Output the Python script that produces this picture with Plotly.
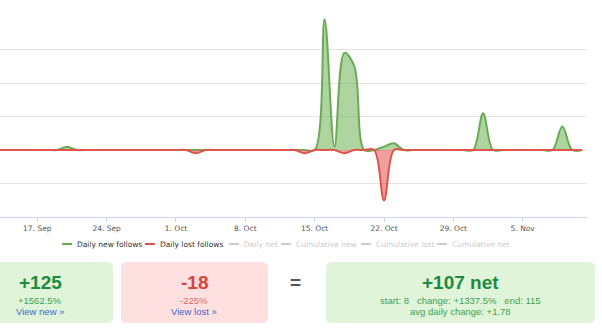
import pandas as pd
import plotly.graph_objects as go

# ---- data -------------------------------------------------------------
dates = pd.date_range("2018-09-13", "2018-11-11", freq="D")

daily_new = [
    0, 0, 0, 0, 0, 0, 0, 1, 0, 0,     # 13 Sep - 22 Sep
    0, 0, 0, 0, 0, 0, 0, 0, 0, 0,     # 23 Sep - 2 Oct
    0, 0, 0, 0, 0, 0, 0, 0, 0, 0,     # 3 Oct - 12 Oct
    0, 0, 0, 39, 1, 29, 25, 0, 0, 1,  # 13 Oct - 22 Oct
    2, 0, 0, 0, 0, 0, 0, 0, 0, 11,    # 23 Oct - 1 Nov
    0, 0, 0, 0, 0, 0, 0, 7, 0, 0,     # 2 Nov - 11 Nov
]
daily_lost = [
    0, 0, 0, 0, 0, 0, 0, 0, 0, 0,
    0, 0, 0, 0, 0, 0, 0, 0, 0, 0,
    -1, 0, 0, 0, 0, 0, 0, 0, 0, 0,
    0, -1, 0, 0, 0, -1, 0, 0, 0, -15,
    0, 0, 0, 0, 0, 0, 0, 0, 0, 0,
    0, 0, 0, 0, 0, 0, 0, 0, 0, 0,
]
tick_dates = ["2018-09-17", "2018-09-24", "2018-10-01", "2018-10-08",
              "2018-10-15", "2018-10-22", "2018-10-29", "2018-11-05"]

legend_items = ["Daily new follows", "Daily lost follows", "Daily net",
                "Cumulative new", "Cumulative lost", "Cumulative net"]
legend_colors = ["#6aaa55", "#e0534a", "#cccccc", "#cccccc", "#cccccc", "#cccccc"]
legend_text_colors = ["#333333", "#333333", "#cccccc", "#cccccc", "#cccccc", "#cccccc"]

total_new = "+125"
total_new_pct = "+1562.5%"
total_lost = "-18"
total_lost_pct = "-225%"
net_total = "+107 net"
net_start, net_change, net_end = "8", "+1337.5%", "115"
avg_daily = "+1.78"

# ---- layout geometry (pixels) ------------------------------------------
W, H = 602, 328
L, R, T, B = 0, 15, 16, 111
PW, PH = W - L - R, H - T - B


def px(x):
    return (x - L) / PW


def py(y):
    return (H - B - y) / PH


GREEN_LINE, GREEN_FILL = "#6aaa55", "rgba(120,185,95,0.6)"
RED_LINE, RED_FILL = "#e0534a", "rgba(232,95,90,0.6)"
SMOOTH = 1.0

fig = go.Figure()
fig.add_trace(go.Scatter(
    x=dates, y=daily_new, mode="lines", name="Daily new follows",
    line=dict(color=GREEN_LINE, width=2, shape="spline", smoothing=SMOOTH),
    fill="tozeroy", fillcolor=GREEN_FILL, hoverinfo="x+y"))
fig.add_trace(go.Scatter(
    x=dates, y=daily_lost, mode="lines", name="Daily lost follows",
    line=dict(color=RED_LINE, width=2, shape="spline", smoothing=SMOOTH),
    fill="tozeroy", fillcolor=RED_FILL, hoverinfo="x+y"))

shapes = []
annotations = []

# legend row
leg_y = 244
leg_x = [62, 145, 229, 281, 361, 437]
for x0, label, lc, tc in zip(leg_x, legend_items, legend_colors, legend_text_colors):
    shapes.append(dict(type="line", xref="paper", yref="paper",
                       x0=px(x0), x1=px(x0 + 10), y0=py(leg_y), y1=py(leg_y),
                       line=dict(color=lc, width=2)))
    annotations.append(dict(xref="paper", yref="paper", x=px(x0 + 13), y=py(leg_y),
                            text=label, showarrow=False, xanchor="left", yanchor="middle",
                            font=dict(family="DejaVu Sans", size=7.5, color=tc)))


def rounded_box(x0, y0, x1, y1, r, color):
    """Rounded rectangle given in pixel coordinates, drawn in paper space."""
    ax0, ax1 = px(x0), px(x1)
    ay0, ay1 = py(y1), py(y0)  # bottom, top
    rx = r / PW
    ry = r / PH
    path = (f"M {ax0 + rx} {ay1} L {ax1 - rx} {ay1} Q {ax1} {ay1} {ax1} {ay1 - ry} "
            f"L {ax1} {ay0 + ry} Q {ax1} {ay0} {ax1 - rx} {ay0} "
            f"L {ax0 + rx} {ay0} Q {ax0} {ay0} {ax0} {ay0 + ry} "
            f"L {ax0} {ay1 - ry} Q {ax0} {ay1} {ax0 + rx} {ay1} Z")
    return dict(type="path", xref="paper", yref="paper", path=path,
                fillcolor=color, line=dict(width=0), layer="below")


box_top, box_bot = 262, 323
shapes.append(rounded_box(-34, box_top, 113, box_bot, 6, "#dff4d9"))
shapes.append(rounded_box(121, box_top, 268, box_bot, 6, "#fde0df"))
shapes.append(rounded_box(326, box_top, 595, box_bot, 6, "#dff4d9"))

BOX_FONT = "Liberation Sans, Arial"
DARK_GREEN, MID_GREEN = "#1f8a3e", "#3f9f55"
DARK_RED, MID_RED = "#d9443a", "#e56a60"
LINK = "#3c68c8"
NBSP = "\u00a0"


def text(x, y, s, size, color, bold=False):
    annotations.append(dict(xref="paper", yref="paper", x=px(x), y=py(y), text=s,
                            showarrow=False, xanchor="center", yanchor="middle",
                            font=dict(family=BOX_FONT, size=size, color=color,
                                      weight="bold" if bold else "normal")))


text(40, 282, total_new, 19, DARK_GREEN, True)
text(40, 300, total_new_pct, 9.5, MID_GREEN)
text(40, 311, "View new »", 9.5, LINK)

text(194, 282, total_lost, 19, DARK_RED, True)
text(194, 300, total_lost_pct, 9.5, MID_RED)
text(194, 311, "View lost »", 9.5, LINK)

text(296, 282, "=", 19, "#555555", True)

text(460, 282, net_total, 19, DARK_GREEN, True)
sep = NBSP * 3
text(460, 300, f"start: {net_start}{sep}change: {net_change}{sep}end: {net_end}", 9.5, MID_GREEN)
text(460, 311, f"avg daily change: {avg_daily}", 9.5, MID_GREEN)

fig.update_layout(
    width=W, height=H, autosize=False,
    margin=dict(l=L, r=R, t=T, b=B, pad=0),
    paper_bgcolor="white", plot_bgcolor="white",
    showlegend=False,
    shapes=shapes, annotations=annotations,
    xaxis=dict(type="date", range=["2018-09-13 05:40", "2018-11-11 11:45"],
               tickvals=tick_dates, tickformat="%-d. %b",
               ticks="outside", ticklen=4, tickcolor="#ccd6eb",
               showline=True, linecolor="#ccd6eb", linewidth=1,
               showgrid=False, zeroline=False,
               tickfont=dict(family="DejaVu Sans", size=7.5, color="#555555")),
    yaxis=dict(range=[-20, 40], dtick=10, showticklabels=False,
               showgrid=True, gridcolor="#e3e3e3", gridwidth=1,
               zeroline=False, showline=False),
)

fig.write_html("out.html")
